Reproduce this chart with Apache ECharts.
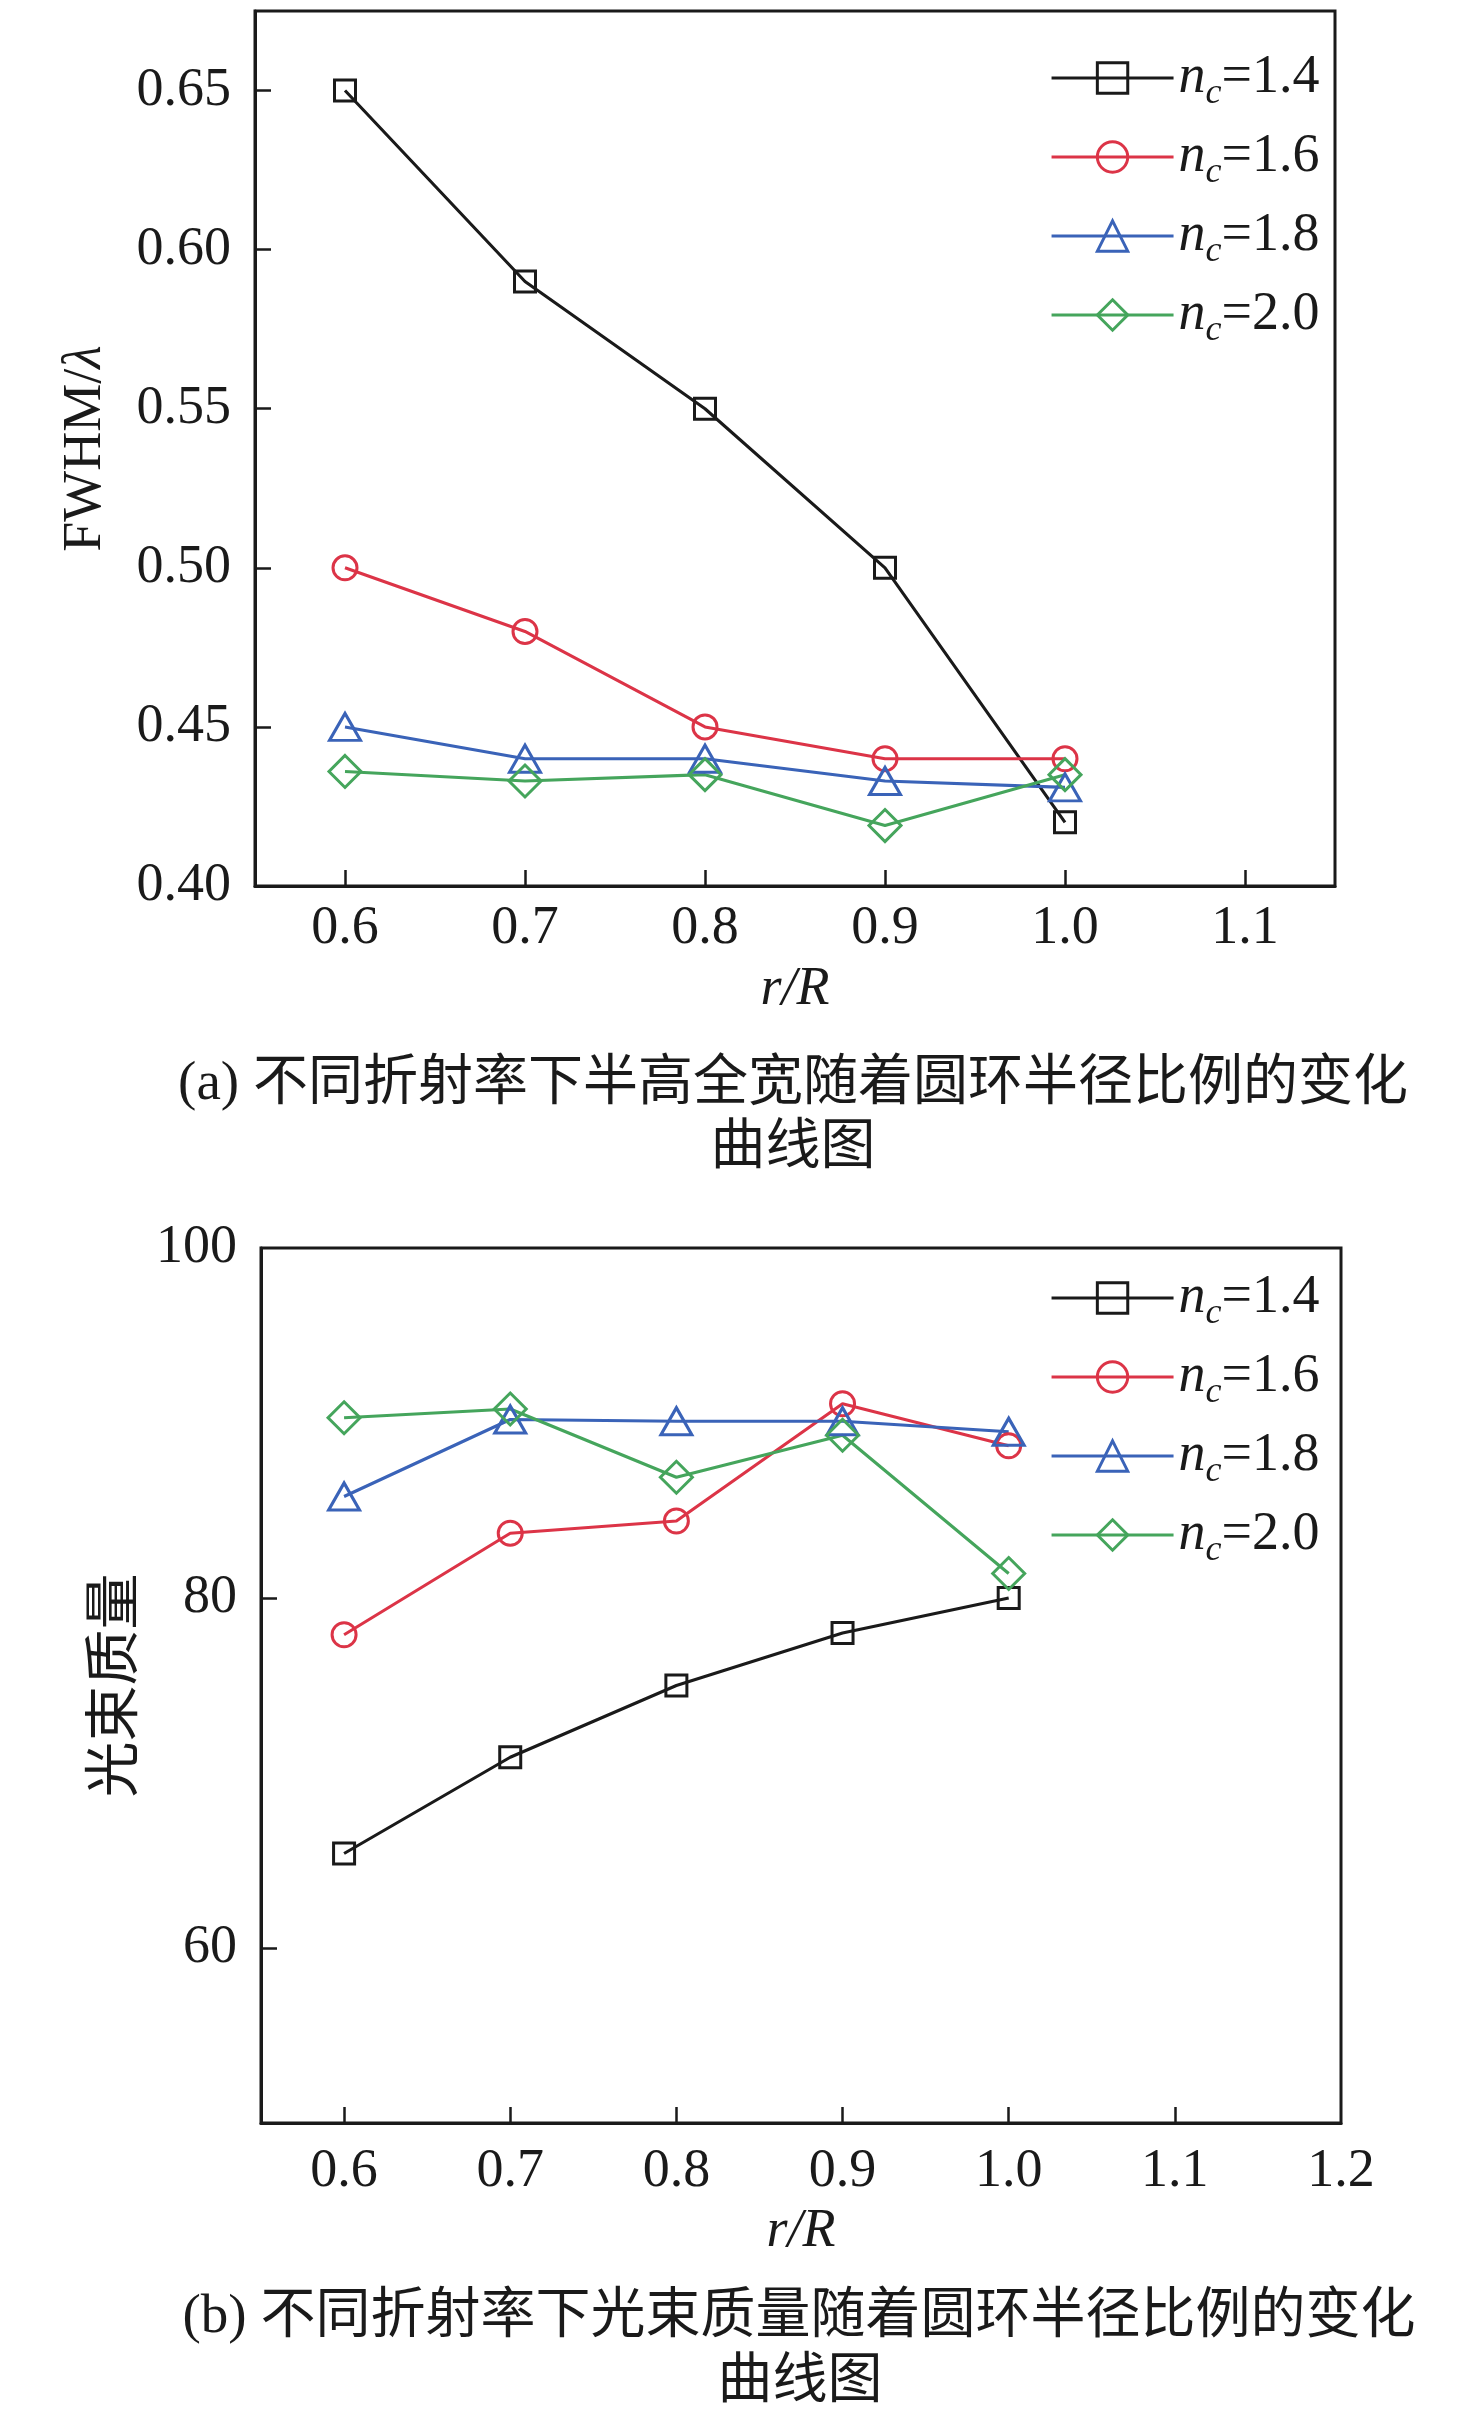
<!DOCTYPE html>
<html>
<head>
<meta charset="utf-8">
<script src="https://cdn.jsdelivr.net/npm/echarts@6/dist/echarts.min.js"></script>
<style>html,body{margin:0;padding:0;background:#fff}#c{width:1476px;height:2417px}</style>
</head>
<body>
<div id="c"></div>
<script>
// ---- data ----
const xValues = [0.6, 0.7, 0.8, 0.9, 1.0];
const seriesNames = ['1.4', '1.6', '1.8', '2.0'];
// (a) FWHM/lambda
const fwhm14 = [0.65, 0.59, 0.55, 0.50, 0.42];
const fwhm16 = [0.50, 0.48, 0.45, 0.44, 0.44];
const fwhm18 = [0.45, 0.44, 0.44, 0.433, 0.431];
const fwhm20 = [0.436, 0.433, 0.435, 0.419, 0.435];
// (b) beam quality
const bq14 = [65.4, 70.9, 75.0, 78.0, 80.0];
const bq16 = [77.9, 83.7, 84.4, 91.1, 88.7];
const bq18 = [85.8, 90.2, 90.1, 90.1, 89.5];
const bq20 = [90.3, 90.8, 86.9, 89.3, 81.4];
// tick labels
const xTicksA = [0.6, 0.7, 0.8, 0.9, 1.0, 1.1];
const yTicksA = [0.40, 0.45, 0.50, 0.55, 0.60, 0.65];
const xTicksB = [0.6, 0.7, 0.8, 0.9, 1.0, 1.1, 1.2];
const yTicksB = [60, 80, 100];
const captionA = ['(a) 不同折射率下半高全宽随着圆环半径比例的变化', '曲线图'];
const captionB = ['(b) 不同折射率下光束质量随着圆环半径比例的变化', '曲线图'];

const colors = ['#1a1a1a', '#dc3447', '#3a63b8', '#45a55c'];
const symbols = ['rect', 'circle', 'triangle', 'diamond'];
const symSizes = [21, 24, [31, 27], 32];
const SERIF = "'Liberation Serif', 'Times New Roman', serif";
const CJK = "'Liberation Serif', 'Noto Sans CJK SC', serif";
const TXT = '#1a1a1a';

function pairs(vals) { return xValues.map((x, i) => [x, vals[i]]); }

function mkSeries(prefix, arrs, gi) {
  return arrs.map((vals, k) => ({
    name: prefix + seriesNames[k],
    type: 'line',
    xAxisIndex: gi, yAxisIndex: gi,
    data: pairs(vals),
    symbol: symbols[k],
    symbolSize: symSizes[k],
    color: colors[k],
    lineStyle: { color: colors[k], width: 3.1 },
    itemStyle: { color: 'transparent', borderColor: colors[k], borderWidth: 3 },
    emphasis: { disabled: true },
    animation: false
  }));
}

function mkLegend(prefix, left, top) {
  return {
    data: seriesNames.map(n => prefix + n),
    orient: 'vertical',
    left: left, top: top,
    itemWidth: 122, itemHeight: 38, itemGap: 11,
    selectedMode: false,
    lineStyle: { width: 3.1 },
    itemStyle: { borderWidth: 3 },
    formatter: name => '{n|n}{c|c}{t|=' + name.slice(1) + '}',
    textStyle: {
      lineHeight: 56,
      rich: {
        n: { fontFamily: SERIF, fontStyle: 'italic', fontSize: 54, lineHeight: 56, color: TXT },
        c: { fontFamily: SERIF, fontStyle: 'italic', fontSize: 36, lineHeight: 22, padding: [32, 0, 0, 0], color: TXT },
        t: { fontFamily: SERIF, fontSize: 54, lineHeight: 56, color: TXT }
      }
    }
  };
}

const axisLine = { show: true, lineStyle: { color: TXT, width: 3 } };
const axisTick = (vals) => ({ show: true, inside: true, length: 16, lineStyle: { color: TXT, width: 2.5 }, customValues: vals });
const labelStyle = { fontFamily: SERIF, fontSize: 54, color: TXT };

const option = {
  backgroundColor: '#fff',
  animation: false,
  grid: [
    { left: 255, top: 11, width: 1080, height: 875, show: true, borderColor: TXT, borderWidth: 3, backgroundColor: 'transparent' },
    { left: 261, top: 1248, width: 1080, height: 875, show: true, borderColor: TXT, borderWidth: 3, backgroundColor: 'transparent' }
  ],
  xAxis: [
    {
      type: 'value', gridIndex: 0, min: 0.55, max: 1.15,
      axisLine, axisTick: axisTick(xTicksA), splitLine: { show: false },
      axisLabel: Object.assign({ customValues: xTicksA, margin: 16, formatter: v => v.toFixed(1) }, labelStyle),
      name: 'r/R', nameLocation: 'middle', nameGap: 77,
      nameTextStyle: { fontFamily: SERIF, fontStyle: 'italic', fontSize: 54, color: TXT }
    },
    {
      type: 'value', gridIndex: 1, min: 0.55, max: 1.2,
      axisLine, axisTick: axisTick(xTicksB.slice(0, 6)), splitLine: { show: false },
      axisLabel: Object.assign({ customValues: xTicksB, margin: 22, formatter: v => v.toFixed(1) }, labelStyle),
      name: 'r/R', nameLocation: 'middle', nameGap: 82,
      nameTextStyle: { fontFamily: SERIF, fontStyle: 'italic', fontSize: 54, color: TXT }
    }
  ],
  yAxis: [
    {
      type: 'value', gridIndex: 0, min: 0.4, max: 0.675,
      axisLine, axisTick: axisTick(yTicksA), splitLine: { show: false },
      axisLabel: Object.assign({ customValues: yTicksA, margin: 24, formatter: v => v.toFixed(2) }, labelStyle),
      name: '{a|FWHM/}{b|λ}', nameLocation: 'middle', nameGap: 142,
      nameTextStyle: {
        rich: {
          a: { fontFamily: SERIF, fontSize: 54, color: TXT },
          b: { fontFamily: SERIF, fontStyle: 'italic', fontSize: 54, color: TXT }
        }
      }
    },
    {
      type: 'value', gridIndex: 1, min: 50, max: 100,
      axisLine, axisTick: axisTick([60, 80]), splitLine: { show: false },
      axisLabel: Object.assign({ customValues: yTicksB, margin: 24, formatter: v => String(v) }, labelStyle),
      name: '光束质量', nameLocation: 'middle', nameGap: 113,
      nameTextStyle: { fontFamily: CJK, fontSize: 56, color: TXT }
    }
  ],
  legend: [mkLegend('a', 1045, 39), mkLegend('b', 1045, 1259)],
  series: [].concat(
    mkSeries('a', [fwhm14, fwhm16, fwhm18, fwhm20], 0),
    mkSeries('b', [bq14, bq16, bq18, bq20], 1)
  ),
  graphic: [
    { type: 'text', x: 793, y: 1085, style: { text: captionA[0], font: "55px " + CJK, fill: TXT, align: 'center', verticalAlign: 'middle' } },
    { type: 'text', x: 793, y: 1149, style: { text: captionA[1], font: "55px " + CJK, fill: TXT, align: 'center', verticalAlign: 'middle' } },
    { type: 'text', x: 799, y: 2318, style: { text: captionB[0], font: "55px " + CJK, fill: TXT, align: 'center', verticalAlign: 'middle' } },
    { type: 'text', x: 800, y: 2383, style: { text: captionB[1], font: "55px " + CJK, fill: TXT, align: 'center', verticalAlign: 'middle' } }
  ]
};

const chart = echarts.init(document.getElementById('c'), null, { renderer: 'canvas' });
chart.setOption(option);
</script>
</body>
</html>
